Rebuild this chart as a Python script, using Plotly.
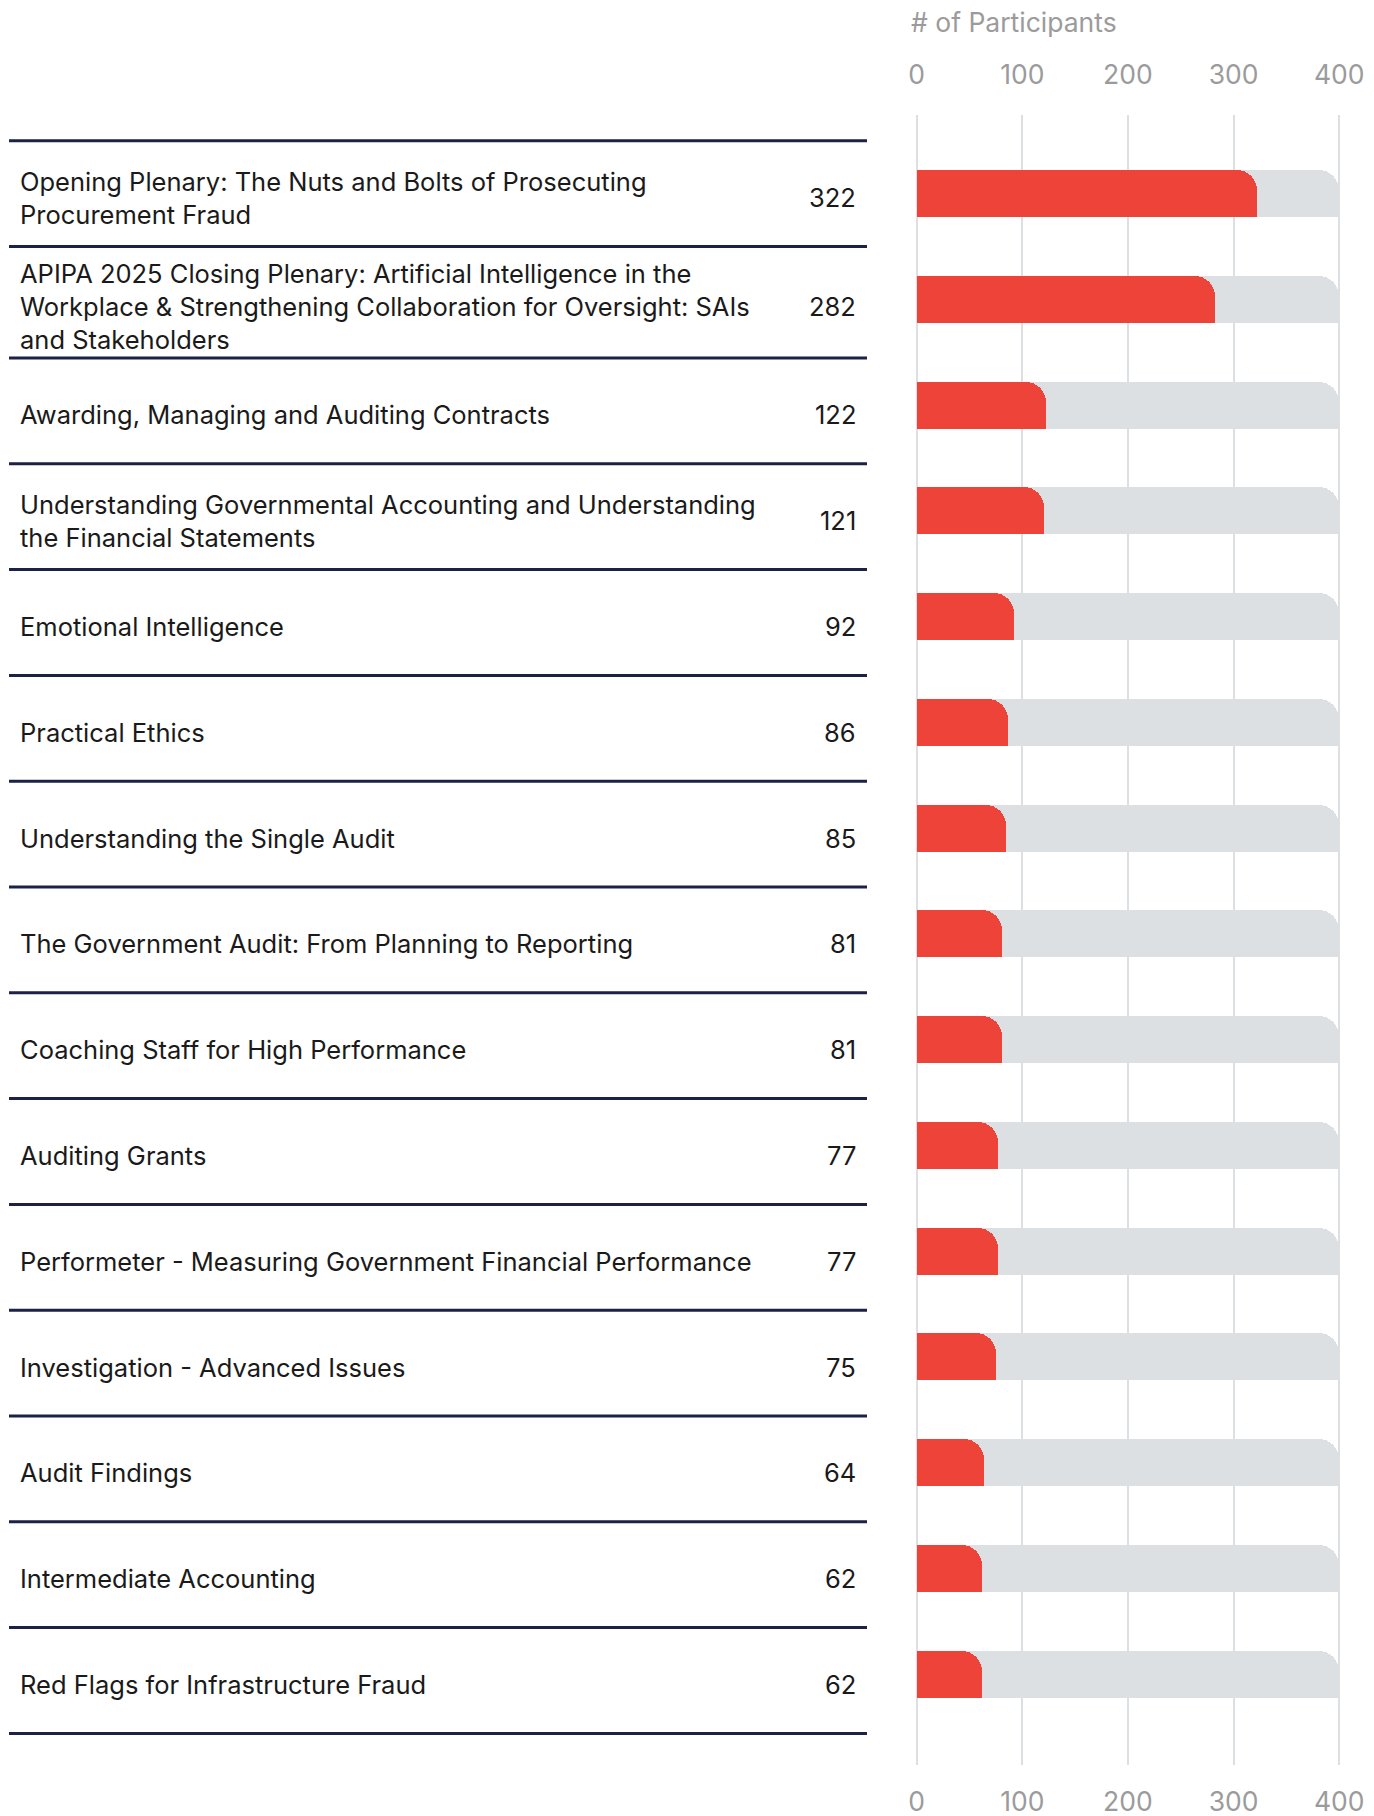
import plotly.graph_objects as go

# ---------------- data ----------------
sessions = [
    "Opening Plenary: The Nuts and Bolts of Prosecuting<br>Procurement Fraud",
    "APIPA 2025 Closing Plenary: Artificial Intelligence in the<br>Workplace & Strengthening Collaboration for Oversight: SAIs<br>and Stakeholders",
    "Awarding, Managing and Auditing Contracts",
    "Understanding Governmental Accounting and Understanding<br>the Financial Statements",
    "Emotional Intelligence",
    "Practical Ethics",
    "Understanding the Single Audit",
    "The Government Audit: From Planning to Reporting",
    "Coaching Staff for High Performance",
    "Auditing Grants",
    "Performeter - Measuring Government Financial Performance",
    "Investigation - Advanced Issues",
    "Audit Findings",
    "Intermediate Accounting",
    "Red Flags for Infrastructure Fraud",
]
participants = [322, 282, 122, 121, 92, 86, 85, 81, 81, 77, 77, 75, 64, 62, 62]
axis_max = 400
tick_values = [0, 100, 200, 300, 400]
tick_labels = ["0", "100", "200", "300", "400"]
axis_title = "# of Participants"

# ---------------- styling ----------------
W, H = 1374, 1816
FONT = "Inter"
RED = "#EE4338"
TRACK = "#DDE0E3"
GRID = "#DDE0E3"
NAVY = "#1d2146"
TEXT = "#1a1a1a"
GREY_TXT = "#9B9B9B"
LABEL_SIZE = 25.5
TICK_SIZE = 26.5

cats = [s.replace("<br>", " ") for s in sessions]
n = len(cats)
track = [axis_max] * n

def px_x(p):
    return p / W

def px_y(p):
    return 1 - p / H

# plot area in pixels
PLOT_L, PLOT_R = 916.6, 1339.2
PLOT_T, PLOT_B = 115, 1765
first_c, step = 193.5, 105.75
bar_h = 47
y_top = (PLOT_T - first_c) / step
y_bot = (PLOT_B - first_c) / step
bw = bar_h / step
radius = 20
pad_units = 2.5  # small range padding so the edge grid lines at 0 and 400 are drawn
x_range = [-pad_units, axis_max + pad_units]
unit_px = (PLOT_R - PLOT_L) / axis_max
dom_l = PLOT_L - pad_units * unit_px
dom_r = PLOT_R + pad_units * unit_px

fig = go.Figure()

def add_bar(xvals, color, yaxis):
    # rounded full-height bar
    fig.add_trace(go.Bar(
        x=xvals, y=cats, orientation="h", width=bw, offset=-bw / 2, yaxis=yaxis,
        marker=dict(color=color, cornerradius=radius, line=dict(width=0)),
        hoverinfo="skip", showlegend=False,
    ))
    # square lower half (only the top-right corner is rounded)
    fig.add_trace(go.Bar(
        x=xvals, y=cats, orientation="h", width=bw / 2, offset=0, yaxis=yaxis,
        marker=dict(color=color, line=dict(width=0)),
        hoverinfo="skip", showlegend=False,
    ))

add_bar(track, TRACK, "y")
add_bar(participants, RED, "y2")

tickfont = dict(family=FONT, size=TICK_SIZE, color=GREY_TXT)

ycommon = dict(
    domain=[px_y(PLOT_B), px_y(PLOT_T)],
    type="category", categoryorder="array", categoryarray=cats,
    range=[y_bot, y_top],
    showticklabels=False, showgrid=False, zeroline=False, showline=False,
    automargin=False, fixedrange=True,
)

fig.update_layout(
    width=W, height=H, autosize=False,
    margin=dict(l=0, r=0, t=0, b=0, pad=0),
    paper_bgcolor="white", plot_bgcolor="white",
    barmode="overlay",
    bargap=0,
    xaxis=dict(
        domain=[px_x(dom_l), px_x(dom_r)],
        range=x_range, side="bottom",
        tickvals=tick_values, ticktext=tick_labels, tickfont=tickfont,
        showgrid=True, gridcolor=GRID, gridwidth=2,
        zeroline=False, showline=False, ticks="",
        ticklabelstandoff=18, automargin=False,
        fixedrange=True,
    ),
    xaxis2=dict(
        domain=[px_x(dom_l), px_x(dom_r)],
        range=x_range, side="top", overlaying="x", anchor="y",
        tickvals=tick_values, ticktext=tick_labels, tickfont=tickfont,
        showgrid=False, zeroline=False, showline=False, ticks="",
        ticklabelstandoff=25, automargin=False,
        fixedrange=True,
    ),
    yaxis=ycommon,
    yaxis2=dict(ycommon, overlaying="y", anchor="x"),
)

# invisible trace to activate the top axis
fig.add_trace(go.Scatter(x=[0], y=[cats[0]], xaxis="x2", mode="markers",
                         marker=dict(opacity=0), hoverinfo="skip", showlegend=False))

# axis title
fig.add_annotation(
    text=axis_title, xref="paper", yref="paper", x=px_x(909), y=px_y(22),
    xanchor="left", yanchor="middle", showarrow=False,
    font=dict(family=FONT, size=TICK_SIZE, color=GREY_TXT),
)

# ---------------- left table ----------------
TABLE_TOP = 140.7
BASE_ROW = 105.8
LINE_H = 32.5
LINE_X0, LINE_X1 = 9, 867
shapes = []
y = TABLE_TOP
shapes.append(dict(type="line", xref="paper", yref="paper",
                   x0=px_x(LINE_X0), x1=px_x(LINE_X1), y0=px_y(y), y1=px_y(y),
                   line=dict(color=NAVY, width=3)))
for s, v in zip(sessions, participants):
    nlines = s.count("<br>") + 1
    rh = max(BASE_ROW, nlines * LINE_H + 14)
    cy = y + rh / 2 + 4
    fig.add_annotation(
        text=s, xref="paper", yref="paper", x=px_x(18), y=px_y(cy),
        xanchor="left", yanchor="middle", align="left", showarrow=False,
        font=dict(family=FONT, size=LABEL_SIZE, color=TEXT),
    )
    fig.add_annotation(
        text=str(v), xref="paper", yref="paper", x=px_x(858), y=px_y(cy),
        xanchor="right", yanchor="middle", align="right", showarrow=False,
        font=dict(family=FONT, size=LABEL_SIZE, color=TEXT),
    )
    y += rh
    shapes.append(dict(type="line", xref="paper", yref="paper",
                       x0=px_x(LINE_X0), x1=px_x(LINE_X1), y0=px_y(y), y1=px_y(y),
                       line=dict(color=NAVY, width=3)))
fig.update_layout(shapes=shapes)

fig.write_html("out.html", config={"displayModeBar": False, "responsive": False},
               post_script="document.body.style.margin='0';document.body.style.overflow='hidden';")
